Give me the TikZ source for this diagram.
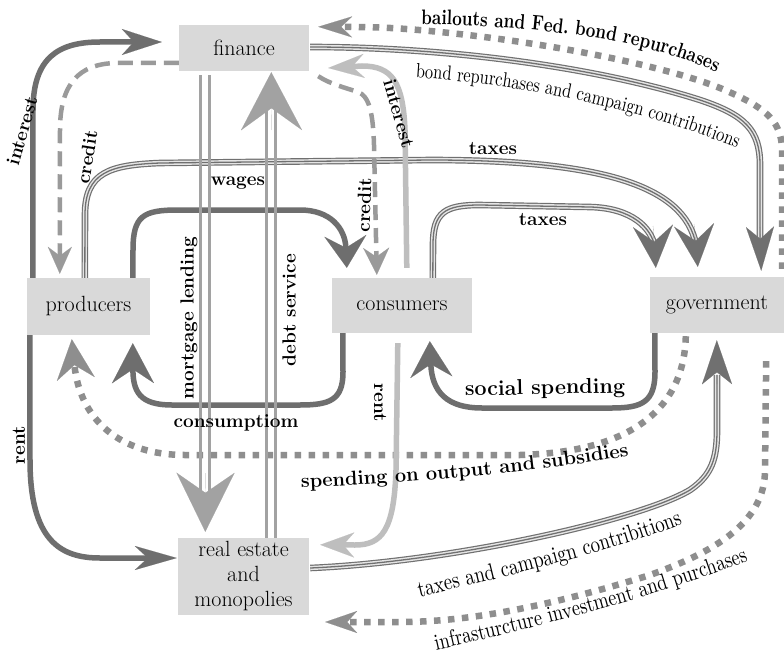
\documentclass[tikz,border=0pt]{standalone}
\usepackage{fontspec}
\newfontfamily\condrm[FakeStretch=0.8]{lmroman10-regular.otf}
\newfontfamily\condbf[FakeStretch=0.8]{lmroman10-bold.otf}
\usetikzlibrary{arrows.meta,calc,decorations.text}
\definecolor{boxc}{HTML}{D9D9D9}
\definecolor{darkc}{HTML}{6E6E6E}
\definecolor{midc}{HTML}{9A9A9A}
\definecolor{lightc}{HTML}{BEBEBE}
\definecolor{dotc}{HTML}{8E8E8E}
\definecolor{tric}{HTML}{707070}
\definecolor{dblc}{HTML}{A2A2A2}
\newcommand\fbail{\condbf\fontsize{21}{24}\selectfont}
\newcommand\fbond{\condrm\fontsize{20.5}{24}\selectfont}
\newcommand\ftaxcamp{\condrm\fontsize{23.5}{26}\selectfont}
\newcommand\finfra{\condrm\fontsize{23}{26}\selectfont}
\newcommand\fspendlbl{\bfseries\fontsize{20}{22}\selectfont}
\begin{document}
\begin{tikzpicture}[x=1pt,y=-1pt,
  box/.style={fill=boxc, inner sep=0pt, align=center, font=\fontsize{22}{25}\selectfont},
  darkline/.style={draw=darkc, line width=5.5pt},
  lightline/.style={draw=lightc, line width=5.5pt},
  dashline/.style={draw=midc, line width=4.5pt, dash pattern=on 15pt off 8pt},
  dotline/.style={draw=dotc, line width=6.5pt, dash pattern=on 6.5pt off 7.5pt},
  dblline/.style={draw=dblc, line width=3pt},
  triline/.style={draw=tric, line width=1.3pt, preaction={draw=tric, line width=6.6pt}, preaction={draw=white!90!black, line width=4.2pt}},
  tritip/.style={draw=tric, line width=0.1pt},
  lbl/.style={inner sep=0pt, font=\bfseries\fontsize{19}{21}\selectfont}
]
\fill[white] (0,0) rectangle (784,658);
\useasboundingbox (0,0) rectangle (784,658);

% boxes
\node[box, minimum width=130pt, minimum height=46pt] (finance) at (244,48) {finance};
\node[box, minimum width=123pt, minimum height=57pt] (producers) at (88.5,306.5) {producers};
\node[box, minimum width=140pt, minimum height=55pt] (consumers) at (402,305.5) {consumers};
\node[box, minimum width=134pt, minimum height=56pt] (government) at (717,305) {government};
\node[box, minimum width=131pt, minimum height=77pt] (realestate) at (243.5,576.5) {real estate\\and\\monopolies};

% triple lines
\draw[triline] ($(producers.north west)+(58,0)$) -- (85,215) .. controls (85,172) and (110,165) .. (160,163) -- (430,160) .. controls (600,160) and (685,185) .. (696,245);
\draw[tritip, -{Stealth[length=42pt,width=40pt,inset=16pt,line width=0.1pt]}] (694,224) -- ($(government.north west)+(48,-10)$);
\draw[triline] ($(consumers.north west)+(101,0)$) -- (433,245) .. controls (433,212) and (445,205) .. (480,205) -- (590,207) .. controls (632,208) and (652,228) .. (655,248);
\draw[tritip, -{Stealth[length=42pt,width=40pt,inset=16pt,line width=0.1pt]}] (653,226) -- ($(government.north west)+(6,-9)$);
\draw[triline] ($(finance.east)+(1,-1)$) .. controls (450,47) and (600,68) .. (700,100) .. controls (745,115) and (760,130) .. (760,165) -- (760,245);
\draw[tritip, -{Stealth[length=44pt,width=28pt,inset=12pt,line width=0.1pt]}] (760,227) -- ($(government.north east)+(-23,-6)$);
\draw[triline] ($(realestate.east)+(1,-8.5)$) .. controls (450,562) and (640,520) .. (690,490) .. controls (712,475) and (717,458) .. (717,430) -- (717,375);
\draw[tritip, -{Stealth[length=44pt,width=30pt,inset=12pt,line width=0.1pt]}] (717,384) -- ($(government.south west)+(67,7)$);

% dotted lines
\draw[dotline, -{Stealth[length=34pt,width=21pt,inset=11pt,line width=0.1pt]}] ($(government.north east)+(-2,-8)$) -- (782,150) .. controls (782,118) and (760,105) .. (720,88) .. controls (670,68) and (560,44) .. (440,32) .. controls (400,28) and (380,27) .. ($(finance.north east)+(9,2)$);
\draw[dotline, -{Stealth[length=40pt,width=38pt,inset=14pt,line width=0.1pt]}] ($(government.south west)+(36,3)$) .. controls (684,410) and (630,452) .. (520,455) -- (185,455) .. controls (120,455) and (80,420) .. ($(producers.south west)+(45,4)$);
\draw[dotline, -{Stealth[length=32pt,width=22pt,inset=10pt,line width=0.1pt]}] ($(government.south east)+(-18,28)$) -- (765,470) .. controls (765,520) and (720,550) .. (650,575) .. controls (570,600) and (480,622) .. (400,622) -- ($(realestate.east)+(16,45.5)$);

% dashed lines
\draw[dashline, -{Stealth[length=27pt,width=24pt,inset=9pt,line width=0.1pt]}] ($(finance.west)+(0,15)$) -- (118,63) .. controls (78,63) and (60,85) .. (60,130) -- ($(producers.north west)+(33,-4)$);
\draw[dashline, -{Stealth[length=27pt,width=26pt,inset=9pt,line width=0.1pt]}] ($(finance.south east)+(9,5)$) .. controls (330,84) and (346,88) .. (358,92) .. controls (369,96) and (373,112) .. (374,145) -- ($(consumers.north west)+(45,-3)$);

% light lines
\draw[lightline, -{Stealth[length=36pt,width=24pt,inset=12pt,line width=0.1pt]}] ($(consumers.north west)+(75,-10)$) -- (405,130) .. controls (403,82) and (392,66) .. (362,66) -- ($(finance.east)+(19,20)$);
\draw[lightline, -{Stealth[length=34pt,width=25pt,inset=11pt,line width=0.1pt]}] ($(consumers.south west)+(66,10)$) -- (396,470) .. controls (394,530) and (382,545) .. (355,545) -- ($(realestate.north east)+(11,7)$);

% dark lines
\draw[darkline, -{Stealth[length=40pt,width=26pt,inset=12pt,line width=0.1pt]}] ($(producers.north west)+(6,0)$) -- (33,110) .. controls (33,58) and (58,42) .. (100,42) -- ($(finance.west)+(-17,-6)$);
\draw[darkline, -{Stealth[length=32pt,width=42pt,inset=12pt,line width=0.1pt]}] ($(producers.north west)+(106,0)$) -- (133,250) .. controls (133,216) and (143,210) .. (178,210) -- (300,210) .. controls (330,210) and (345,228) .. ($(consumers.north west)+(15,-10)$);
\draw[darkline, -{Stealth[length=40pt,width=42pt,inset=14pt,line width=0.1pt]}] ($(consumers.south west)+(11,0)$) -- (343,372) .. controls (343,400) and (330,405) .. (300,405) -- (172,405) .. controls (140,405) and (133,392) .. ($(producers.south west)+(106,8)$);
\draw[darkline, -{Stealth[length=42pt,width=24pt,inset=13pt,line width=0.1pt]}] ($(producers.south west)+(3,0)$) -- (30,460) .. controls (30,540) and (60,558) .. (100,558) -- ($(realestate.west)+(-1,-18.5)$);
\draw[darkline, -{Stealth[length=36pt,width=42pt,inset=13pt,line width=0.1pt]}] ($(government.south west)+(5,0)$) -- (655,372) .. controls (655,402) and (642,408) .. (612,408) -- (482,408) .. controls (447,408) and (432,392) .. ($(consumers.south west)+(98,8)$);

% double vertical lines
\draw[dblline] ($(finance.south west)+(21.5,4)$) -- ++(0,440);
\draw[dblline] ($(finance.south west)+(30.5,4)$) -- ++(0,440);
\draw[draw=dblc, line width=0.1pt, -{Stealth[length=59pt,width=58pt,inset=20pt,line width=0.1pt]}] (205.5,473) -- ($(realestate.north west)+(27.5,-6)$);
\draw[dblline] ($(realestate.north west)+(89,0)$) -- ++(0,-440);
\draw[dblline] ($(realestate.north west)+(98,0)$) -- ++(0,-440);
\draw[draw=dblc, line width=0.1pt, -{Stealth[length=58pt,width=61pt,inset=22pt,line width=0.1pt]}] (271.5,130) -- ($(finance.south west)+(92.5,1)$);

% labels
\node[lbl, rotate=74] (linterestA) at (22,131) {interest};
\node[lbl, rotate=81] (lcreditA) at (87,157) {credit};
\node[lbl] (lwages) at (238,183) {wages};
\node[lbl, rotate=90] (lmortgage) at (189,318) {mortgage lending};
\node[lbl, rotate=90] (ldebt) at (289,310) {debt service};
\node[lbl, rotate=88] (lcreditB) at (364,205) {credit};
\node[lbl, rotate=-74] (linterestB) at (399,114) {interest};
\node[lbl] (ltaxesA) at (493,149) {taxes};
\node[lbl] (ltaxesB) at (543,220) {taxes};
\node[lbl] (lconsumption) at (236,423) {consumptiom};
\node[lbl, rotate=1, font=\bfseries\fontsize{21.5}{24}\selectfont] (lsocial) at (545,389) {social spending};
\node[lbl, rotate=90] (lrentA) at (19,445) {rent};
\node[lbl, rotate=-90] (lrentB) at (380,403) {rent};

% curved labels
\path[decorate, decoration={text along path, text align=center, text={|\fbail|bailouts and Fed. bond repurchases}}] (415,24) .. controls (520,26) and (640,35) .. (722,75);
\path[decorate, decoration={text along path, text align=center, text={|\fbond|bond repurchases and campaign contributions}}] (408,77) .. controls (520,84) and (640,108) .. (744,151);
\path[decorate, decoration={text along path, text align=center, text={|\fspendlbl|spending on output and subsidies}}] (285,488) .. controls (400,485) and (550,471) .. (645,453);
\path[decorate, decoration={text along path, text align=center, text={|\ftaxcamp|taxes and campaign contribitions}}] (412,599) .. controls (490,580) and (610,553) .. (690,521);
\path[decorate, decoration={text along path, text align=center, text={|\finfra|infrasturcture investment and purchases}}] (428,652) .. controls (550,625) and (660,595) .. (756,558);
\end{tikzpicture}
\end{document}
